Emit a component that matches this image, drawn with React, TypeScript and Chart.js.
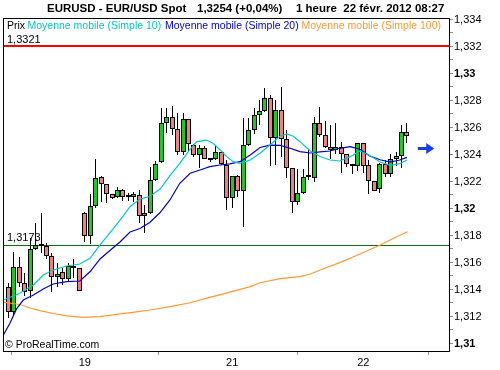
import React, { useEffect, useRef } from 'react';
import { Chart, registerables } from 'chart.js';

Chart.register(...registerables);

// ---- Data ----
const dayTickIndex = [14, 41, 65];
const dayTickLabels = ['19', '21', '22'];

const opens = [
  1.31421, 1.31231, 1.31564, 1.31450, 1.31391, 1.31700, 1.31726, 1.31722, 1.31648, 1.31495,
  1.31530, 1.31476, 1.31574, 1.31559, 1.31964, 1.31799, 1.32021, 1.32231, 1.32179, 1.32105,
  1.32083, 1.32137, 1.32090, 1.32087, 1.32100, 1.31944, 1.31964, 1.32211, 1.32342, 1.32631,
  1.32676, 1.32587, 1.32421, 1.32661, 1.32468, 1.32394, 1.32450, 1.32369, 1.32364, 1.32421,
  1.32320, 1.32076, 1.32241, 1.32133, 1.32470, 1.32581, 1.32693, 1.32722, 1.32816, 1.32520,
  1.32730, 1.32513, 1.32298, 1.32050, 1.32117, 1.32231, 1.32224, 1.32631, 1.32544, 1.32453,
  1.32433, 1.32453, 1.32404, 1.32330, 1.32315, 1.32483, 1.32322, 1.32204, 1.32142, 1.32330,
  1.32256, 1.32370, 1.32390, 1.32569,
];
const highs = [
  1.31450, 1.31680, 1.31641, 1.31522, 1.31781, 1.31893, 1.31967, 1.31747, 1.31670, 1.31596,
  1.31559, 1.31596, 1.31626, 1.31560, 1.31974, 1.32105, 1.32367, 1.32241, 1.32180, 1.32106,
  1.32161, 1.32144, 1.32117, 1.32124, 1.32137, 1.32026, 1.32305, 1.32352, 1.32742, 1.32742,
  1.32759, 1.32710, 1.32705, 1.32662, 1.32478, 1.32470, 1.32463, 1.32370, 1.32463, 1.32425,
  1.32359, 1.32244, 1.32248, 1.32668, 1.32673, 1.32744, 1.32804, 1.32896, 1.32841, 1.32804,
  1.32900, 1.32581, 1.32299, 1.32293, 1.32290, 1.32433, 1.32680, 1.32750, 1.32648, 1.32619,
  1.32631, 1.32496, 1.32405, 1.32331, 1.32485, 1.32485, 1.32359, 1.32205, 1.32337, 1.32359,
  1.32407, 1.32419, 1.32615, 1.32631,
];
const lows = [
  1.31191, 1.31211, 1.31421, 1.31352, 1.31337, 1.31691, 1.31670, 1.31626, 1.31384, 1.31421,
  1.31433, 1.31458, 1.31485, 1.31389, 1.31754, 1.31735, 1.32004, 1.32050, 1.32043, 1.32074,
  1.32078, 1.32058, 1.32058, 1.32050, 1.31890, 1.31816, 1.31959, 1.32204, 1.32337, 1.32557,
  1.32544, 1.32396, 1.32396, 1.32426, 1.32381, 1.32298, 1.32367, 1.32347, 1.32359, 1.32319,
  1.31989, 1.32001, 1.32085, 1.31865, 1.32465, 1.32552, 1.32622, 1.32715, 1.32315, 1.32322,
  1.32384, 1.32226, 1.31969, 1.32026, 1.32110, 1.32211, 1.32199, 1.32527, 1.32448, 1.32367,
  1.32400, 1.32261, 1.32307, 1.32259, 1.32280, 1.32265, 1.32105, 1.32126, 1.32117, 1.32230,
  1.32233, 1.32315, 1.32298, 1.32487,
];
const closes = [
  1.31233, 1.31564, 1.31450, 1.31384, 1.31700, 1.31730, 1.31719, 1.31648, 1.31495, 1.31513,
  1.31478, 1.31576, 1.31557, 1.31391, 1.31799, 1.32021, 1.32224, 1.32179, 1.32105, 1.32076,
  1.32137, 1.32083, 1.32087, 1.32105, 1.31944, 1.31964, 1.32211, 1.32330, 1.32631, 1.32676,
  1.32587, 1.32421, 1.32661, 1.32478, 1.32394, 1.32450, 1.32369, 1.32359, 1.32421, 1.32330,
  1.32076, 1.32241, 1.32133, 1.32470, 1.32581, 1.32693, 1.32722, 1.32816, 1.32520, 1.32730,
  1.32513, 1.32298, 1.32050, 1.32117, 1.32231, 1.32233, 1.32631, 1.32544, 1.32453, 1.32433,
  1.32453, 1.32404, 1.32330, 1.32315, 1.32483, 1.32315, 1.32204, 1.32133, 1.32330, 1.32256,
  1.32370, 1.32390, 1.32569, 1.32540,
];

const sma10Idx = [-0.9, 2.1, 4.6, 6.4, 8.2, 10.7, 13.1, 15.0, 16.8, 18.6, 20.5, 22.3, 24.1, 25.9, 27.8, 29.6, 31.4, 33.3, 34.5, 36.3, 37.5, 38.8, 40.0, 41.2, 42.4, 44.3, 46.1, 47.9, 49.8, 51.0, 52.2, 53.4, 55.3, 57.1, 58.9, 60.7, 62.6, 64.4, 66.2, 68.1, 69.9, 71.7, 73.0];
const sma10Val = [1.31322, 1.31372, 1.31433, 1.31507, 1.31544, 1.31574, 1.31589, 1.31633, 1.31730, 1.31819, 1.31915, 1.32013, 1.32070, 1.32089, 1.32144, 1.32244, 1.32335, 1.32439, 1.32495, 1.32507, 1.32483, 1.32433, 1.32384, 1.32347, 1.32335, 1.32359, 1.32409, 1.32470, 1.32537, 1.32552, 1.32535, 1.32495, 1.32426, 1.32385, 1.32359, 1.32352, 1.32384, 1.32426, 1.32393, 1.32344, 1.32319, 1.32332, 1.32359];

const sma20Idx = [-0.9, 0.3, 1.5, 2.75, 4.6, 6.4, 8.2, 10.7, 13.1, 15.0, 16.8, 18.6, 20.5, 22.3, 24.1, 25.9, 27.8, 29.6, 31.4, 33.3, 35.1, 36.9, 38.8, 40.6, 42.4, 44.3, 46.1, 47.9, 49.8, 51.6, 53.4, 55.3, 57.1, 58.9, 60.7, 62.6, 64.4, 66.2, 68.1, 69.9, 71.7, 73.0];
const sma20Val = [1.31063, 1.31150, 1.31256, 1.31322, 1.31359, 1.31404, 1.31441, 1.31458, 1.31463, 1.31533, 1.31626, 1.31689, 1.31754, 1.31826, 1.31852, 1.31896, 1.31970, 1.32063, 1.32187, 1.32261, 1.32285, 1.32310, 1.32322, 1.32330, 1.32347, 1.32396, 1.32452, 1.32470, 1.32468, 1.32446, 1.32421, 1.32411, 1.32419, 1.32426, 1.32446, 1.32458, 1.32439, 1.32389, 1.32361, 1.32343, 1.32359, 1.32379];

const sma100Idx = [-0.9, 2.1, 4.0, 5.8, 8.2, 10.75, 13.7, 16.8, 19.9, 22.8, 25.9, 29.6, 33.3, 36.9, 40.6, 44.3, 46.1, 49.8, 53.4, 55.3, 57.1, 60.7, 64.4, 68.1, 71.1, 73.1];
const sma100Val = [1.31307, 1.31289, 1.31263, 1.31244, 1.31222, 1.31204, 1.31194, 1.31199, 1.31216, 1.31231, 1.31248, 1.31273, 1.31302, 1.31342, 1.31381, 1.31421, 1.31450, 1.31480, 1.31495, 1.31515, 1.31544, 1.31599, 1.31663, 1.31730, 1.31791, 1.31828];

const resistanceLevel = 1.3321;
const supportLevel = 1.3173;
const resistanceText = '1,3321';
const supportText = '1,3173';
const arrowStartIdx = 75.0;
const arrowEndIdx = 78.0;
const arrowValue = 1.32446;

const titleParts = ['EURUSD - EUR/USD Spot', '1,3254 (+0,04%)', '1 heure  22 févr. 2012 08:27'];
const legendParts = ['Prix', 'Moyenne mobile (Simple 10)', 'Moyenne mobile (Simple 20)', 'Moyenne mobile (Simple 100)'];
const copyrightText = '© ProRealTime.com';

const X_MIN = -0.97;
const X_MAX = 80.7;
const Y_MIN = 1.309444;
const Y_MAX = 1.334111;

const GREEN = '#1ccc1c';
const RED = '#f08080';
const CYAN = '#00c8c8';
const BLUE = '#0000cc';
const ORANGE = '#ff9933';
const FONT = '"Liberation Sans", Arial, sans-serif';

const fmt = (v: number) => {
  const s = Number(v.toFixed(3)).toString();
  return s.replace('.', ',');
};

export default function App() {
  const ref = useRef<HTMLCanvasElement | null>(null);

  useEffect(() => {
    const canvas = ref.current;
    if (!canvas) return;

    const idx = opens.map((_, i) => i);
    const bodyData = idx.map((i) => ({ x: i, y: [opens[i], closes[i]] }));
    const wickData = idx.map((i) => ({ x: i, y: [lows[i], highs[i]] }));
    const bodyColors = idx.map((i) => (closes[i] >= opens[i] ? GREEN : RED));

    const snap = {
      id: 'snap',
      afterDatasetsUpdate(chart: any) {
        [3, 4].forEach((d) => {
          const meta = chart.getDatasetMeta(d);
          meta.data.forEach((el: any) => {
            el.x = Math.floor(el.x) + 0.5;
            el.y = Math.round(el.y);
            el.base = Math.round(el.base);
          });
        });
        chart.getDatasetMeta(5).data.forEach((el: any) => {
          el.y = Math.ceil(el.y);
        });
        chart.getDatasetMeta(6).data.forEach((el: any) => {
          el.y = Math.round(el.y) + 0.5;
        });
      },
    };

    const overlay = {
      id: 'overlay',
      afterDraw(chart: any) {
        const { ctx, chartArea: a, scales } = chart;
        const xs = scales.x;
        const ys = scales.y;
        ctx.save();
        // frame
        ctx.strokeStyle = '#000';
        ctx.lineWidth = 1;
        ctx.strokeRect(a.left + 0.5, a.top + 0.5, a.right - a.left, a.bottom - a.top);

        ctx.textBaseline = 'middle';
        ctx.textAlign = 'left';
        // title
        ctx.fillStyle = '#000';
        ctx.font = `bold 11.5px ${FONT}`;
        ctx.fillText(titleParts[0], 47, 9);
        ctx.fillText(titleParts[1], 197, 9);
        ctx.fillText(titleParts[2], 296, 9);

        // legend
        ctx.font = `10.5px ${FONT}`;
        const legendX = [7, 27.5, 165, 301.5];
        const legendC = ['#000', CYAN, BLUE, ORANGE];
        legendParts.forEach((t, k) => {
          ctx.fillStyle = legendC[k];
          ctx.fillText(t, legendX[k], 26);
        });

        // level labels
        ctx.fillStyle = '#000';
        ctx.font = `11px ${FONT}`;
        ctx.fillText(resistanceText, 7, ys.getPixelForValue(resistanceLevel) - 5);
        ctx.fillText(supportText, 7, ys.getPixelForValue(supportLevel) - 7);

        // copyright
        ctx.font = `10.5px ${FONT}`;
        ctx.fillText(copyrightText, 5, a.bottom - 6);

        // arrow
        const x0 = xs.getPixelForValue(arrowStartIdx);
        const x1 = xs.getPixelForValue(arrowEndIdx);
        const ay = Math.round(ys.getPixelForValue(arrowValue));
        ctx.fillStyle = '#1a3cf0';
        ctx.fillRect(x0, ay - 1, x1 - x0 - 6, 3);
        ctx.beginPath();
        ctx.moveTo(x1 - 8, ay - 5);
        ctx.lineTo(x1, ay + 0.5);
        ctx.lineTo(x1 - 8, ay + 6);
        ctx.closePath();
        ctx.fill();
        ctx.restore();
      },
    };

    const lineDs = (label: string, xsArr: number[], vals: number[], color: string, width = 1) => ({
      type: 'line' as const,
      label,
      data: xsArr.map((x, k) => ({ x, y: vals[k] })),
      borderColor: color,
      borderWidth: width,
      pointRadius: 0,
      tension: 0,
      fill: false,
    });

    const chart = new Chart(canvas, {
      type: 'bar',
      data: {
        datasets: [
          lineDs('Moyenne mobile (Simple 10)', sma10Idx, sma10Val, CYAN, 1.2) as any,
          lineDs('Moyenne mobile (Simple 20)', sma20Idx, sma20Val, BLUE, 1.2) as any,
          lineDs('Moyenne mobile (Simple 100)', sma100Idx, sma100Val, ORANGE, 1.2) as any,
          {
            type: 'bar',
            label: 'Prix',
            data: bodyData as any,
            backgroundColor: bodyColors,
            borderColor: '#000',
            borderWidth: 1,
            borderSkipped: false,
            barThickness: 5,
            minBarLength: 2,
            grouped: false,
            inflateAmount: 0,
          } as any,
          {
            type: 'bar',
            label: 'wick',
            data: wickData as any,
            backgroundColor: '#000',
            borderWidth: 0,
            barThickness: 1,
            minBarLength: 1,
            grouped: false,
            inflateAmount: 0,
          } as any,
          lineDs('res', [X_MIN, X_MAX], [resistanceLevel, resistanceLevel], '#ff0000', 2) as any,
          lineDs('sup', [X_MIN, X_MAX], [supportLevel, supportLevel], '#0a700a', 1) as any,
        ],
      },
      options: {
        responsive: false,
        animation: false,
        events: [],
        layout: { padding: { left: 3, top: 18, right: 0, bottom: 0 } },
        plugins: {
          legend: { display: false },
          title: { display: false },
          tooltip: { enabled: false },
        },
        scales: {
          x: {
            type: 'linear',
            min: X_MIN,
            max: X_MAX,
            offset: false,
            afterFit: (s: any) => {
              s.height = 19;
            },
            afterBuildTicks: (s: any) => {
              s.ticks = dayTickIndex.map((v) => ({ value: v }));
            },
            border: { display: false },
            grid: { drawOnChartArea: false, drawTicks: true, tickLength: 4, color: '#8a94a8' },
            ticks: {
              autoSkip: false,
              maxRotation: 0,
              padding: 1,
              color: '#000',
              font: { family: FONT, size: 11 },
              callback: (v: any) => {
                const k = dayTickIndex.indexOf(Number(v));
                return k >= 0 ? dayTickLabels[k] : '';
              },
            },
          },
          y: {
            type: 'linear',
            position: 'right',
            min: Y_MIN,
            max: Y_MAX,
            afterFit: (s: any) => {
              s.width = 51;
            },
            border: { display: false },
            grid: { drawOnChartArea: false, drawTicks: true, tickLength: 4, color: '#8c8c8c' },
            ticks: {
              stepSize: 0.001,
              includeBounds: false,
              autoSkip: false,
              padding: 1,
              color: '#000',
              font: (c: any) => {
                const v = c.tick ? Math.round(c.tick.value * 1000) : 1;
                return { family: FONT, size: 11, weight: v % 10 === 0 ? 'bold' : 'normal' } as any;
              },
              callback: (v: any) => {
                const m = Math.round(Number(v) * 1000);
                return m % 2 === 0 ? fmt(m / 1000) : '';
              },
            },
          },
        },
      } as any,
      plugins: [snap, overlay],
    });

    return () => chart.destroy();
  }, []);

  return (
    <div style={{ position: 'fixed', left: 0, top: 0, width: 500, height: 370, background: '#fff' }}>
      <canvas ref={ref} width={500} height={370} style={{ display: 'block', width: 500, height: 370 }} />
    </div>
  );
}
